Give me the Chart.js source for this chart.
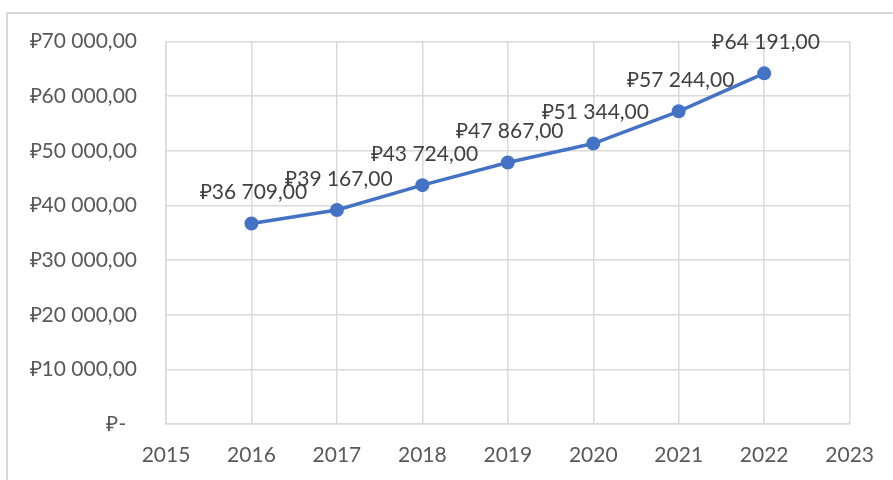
<!DOCTYPE html>
<html>
<head>
<meta charset="utf-8">
<script src="https://cdn.jsdelivr.net/npm/chart.js@4/dist/chart.umd.min.js"></script>
<style>
  html, body { margin: 0; padding: 0; background: #fff; }
  #wrap { position: relative; width: 893px; height: 480px; overflow: hidden; }
  #frame { position: absolute; left: 6px; top: 12px; width: 900px; height: 480px;
           border-left: 2px solid #d9d9d9; border-top: 2px solid #d9d9d9; box-sizing: border-box; }
  canvas { position: absolute; left: 0; top: 0; }
</style>
</head>
<body>
<div id="wrap">
  <div id="frame"></div>
  <canvas id="c" width="893" height="480"></canvas>
</div>
<script>
const years = [2016, 2017, 2018, 2019, 2020, 2021, 2022];
const values = [36709, 39167, 43724, 47867, 51344, 57244, 64191];
const xMin = 2015, xMax = 2023;
const yMin = 0, yMax = 70000, yStep = 10000;

function rub(v) {
  if (v === 0) return '\u20BD-  ';
  const fixed = v.toFixed(2);
  const [intPart, dec] = fixed.split('.');
  const grouped = intPart.replace(/\B(?=(\d{3})+(?!\d))/g, ' ');
  return '\u20BD' + grouped + ',' + dec;
}

const labelPlugin = {
  id: 'pointLabels',
  afterDatasetsDraw(chart) {
    const ctx = chart.ctx;
    const meta = chart.getDatasetMeta(0);
    ctx.save();
    ctx.font = '21px Lato';
    ctx.fillStyle = '#404040';
    ctx.textAlign = 'center';
    ctx.textBaseline = 'middle';
    meta.data.forEach((pt, i) => {
      ctx.fillText(rub(values[i]), pt.x + 2, pt.y - 31);
    });
    ctx.restore();
  }
};

new Chart(document.getElementById('c'), {
  type: 'line',
  data: {
    datasets: [{
      data: years.map((y, i) => ({ x: y, y: values[i] })),
      borderColor: '#4472C4',
      backgroundColor: '#4472C4',
      borderWidth: 3.5,
      pointRadius: 7,
      pointHoverRadius: 7,
      pointBackgroundColor: '#4472C4',
      pointBorderColor: '#4472C4',
      pointBorderWidth: 0,
      tension: 0
    }]
  },
  options: {
    responsive: false,
    animation: false,
    events: [],
    layout: { padding: { top: 41, right: 40, left: 0, bottom: 0 } },
    plugins: { legend: { display: false }, tooltip: { enabled: false } },
    scales: {
      x: {
        type: 'linear',
        min: xMin, max: xMax,
        ticks: {
          stepSize: 1,
          color: '#595959',
          font: { family: 'Lato', size: 21 },
          padding: 19,
          maxRotation: 0,
          callback: v => String(v)
        },
        grid: { color: '#d9d9d9', lineWidth: 1.5, drawTicks: false },
        border: { color: '#d9d9d9', width: 1.5 },
        afterFit: s => { s.height = 56; }
      },
      y: {
        min: yMin, max: yMax,
        ticks: {
          stepSize: yStep,
          color: '#595959',
          font: { family: 'Lato', size: 21 },
          padding: 29,
          callback: v => rub(v)
        },
        grid: { color: '#d9d9d9', lineWidth: 1.5, drawTicks: false },
        border: { color: '#d9d9d9', width: 1.5 },
        afterFit: s => { s.width = 166; }
      }
    }
  },
  plugins: [labelPlugin]
});
</script>
</body>
</html>
